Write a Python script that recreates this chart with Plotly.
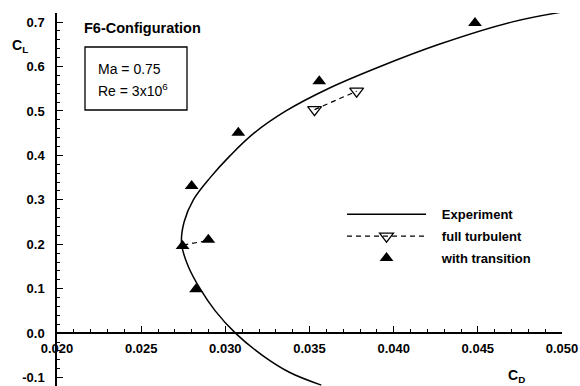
import plotly.graph_objects as go

# ---- data ----
exp_cl = [-0.117, -0.088, -0.05, 0.0, 0.05, 0.10, 0.15, 0.20, 0.25, 0.30,
          0.35, 0.40, 0.45, 0.50, 0.55, 0.60, 0.65, 0.70, 0.722]
exp_cd = [0.0357, 0.0338, 0.0322, 0.0306, 0.0294, 0.0285, 0.0278, 0.02740, 0.02755, 0.0281,
          0.0291, 0.0303, 0.0317, 0.0336, 0.0361, 0.0392, 0.0427, 0.0470, 0.0499]

ft_cd = [0.0353, 0.0378]
ft_cl = [0.503, 0.5445]
ft_low_cd = [0.0275, 0.0290]
ft_low_cl = [0.198, 0.209]

tr_cd = [0.02826, 0.02746, 0.02899, 0.0280, 0.03077, 0.03558, 0.04483]
tr_cl = [0.099, 0.196, 0.210, 0.331, 0.451, 0.567, 0.698]

x_ticks = [0.020, 0.025, 0.030, 0.035, 0.040, 0.045, 0.050]
x_tick_text = ["0.020", "0.025", "0.030", "0.035", "0.040", "0.045", "0.050"]
y_ticks = [-0.1, 0.0, 0.1, 0.2, 0.3, 0.4, 0.5, 0.6, 0.7]
y_tick_text = ["-0.1", "0.0", "0.1", "0.2", "0.3", "0.4", "0.5", "0.6", "0.7"]

FONT = "Liberation Sans, Arial, sans-serif"
NB = "\u00a0\u00a0\u00a0"

fig = go.Figure()
fig.add_trace(go.Scatter(x=exp_cd, y=exp_cl, mode="lines", name=NB + "Experiment",
                         legendgroup="a",
                         line=dict(color="black", width=1.5, shape="spline", smoothing=1.0)))
fig.add_trace(go.Scatter(x=ft_cd, y=ft_cl, mode="lines+markers", name=NB + "full turbulent",
                         legendgroup="b",
                         line=dict(color="black", width=1.2, dash="5px,4px"),
                         marker=dict(symbol="triangle-down-open", size=12, color="black",
                                     line=dict(width=1.3, color="black"))))
fig.add_trace(go.Scatter(x=ft_low_cd, y=ft_low_cl, mode="lines", showlegend=False,
                         legendgroup="b",
                         line=dict(color="black", width=1.2, dash="5px,4px")))
fig.add_trace(go.Scatter(x=tr_cd, y=tr_cl, mode="markers", name=NB + "with transition",
                         legendgroup="c",
                         marker=dict(symbol="triangle-up", size=12, color="black")))

fig.update_layout(
    width=580, height=386,
    margin=dict(l=57, r=18, t=13, b=0),
    paper_bgcolor="white", plot_bgcolor="white",
    font=dict(family=FONT, size=13, color="black"),
    showlegend=True,
    legend=dict(x=0.5644, y=0.5007, xanchor="left", yanchor="top",
                bgcolor="rgba(0,0,0,0)", borderwidth=0, itemwidth=79,
                tracegroupgap=2,
                font=dict(family=FONT, size=13, color="black", weight="bold")),
    xaxis=dict(range=[0.02, 0.05], anchor="free", position=0.1421,
               showline=True, linecolor="black", linewidth=1.5,
               ticks="inside", ticklen=6, tickwidth=1, tickcolor="black",
               tickvals=x_ticks, ticktext=x_tick_text, ticklabelstandoff=4,
               tickfont=dict(family=FONT, size=13, color="black", weight="bold"),
               minor=dict(ticks="inside", dtick=0.001, ticklen=3, tickcolor="black"),
               showgrid=False, zeroline=False),
    yaxis=dict(range=[-0.119, 0.7205], anchor="x",
               showline=True, linecolor="black", linewidth=1.5,
               ticks="inside", ticklen=6, tickwidth=1, tickcolor="black",
               tickvals=y_ticks, ticktext=y_tick_text, ticklabelstandoff=8,
               tickfont=dict(family=FONT, size=13, color="black", weight="bold"),
               minor=dict(ticks="inside", dtick=0.02, ticklen=3, tickcolor="black"),
               showgrid=False, zeroline=False),
)

PLOT_L, PLOT_W, PLOT_H, H = 57, 505.0, 373.0, 386

def ax(px):
    return (px - PLOT_L) / PLOT_W

def ay(py):
    return (H - py) / PLOT_H

ann = [
    dict(text="<b>C<sub>L</sub></b>", x=ax(10), y=ay(46), font=dict(size=14)),
    dict(text="<b>C<sub>D</sub></b>", x=ax(506), y=ay(376), font=dict(size=14)),
    dict(text="<b>F6-Configuration</b>", x=ax(82), y=ay(28), font=dict(size=14.5)),
    dict(text="Ma = 0.75", x=ax(96), y=ay(69), font=dict(size=14)),
    dict(text="Re = 3x10<sup>6</sup>", x=ax(96), y=ay(90), font=dict(size=14)),
]
for a in ann:
    fig.add_annotation(xref="paper", yref="paper", showarrow=False,
                       xanchor="left", yanchor="middle", **a)

# text box
fig.add_shape(type="rect", xref="paper", yref="paper",
              x0=ax(85), x1=ax(187), y0=ay(110), y1=ay(47),
              line=dict(color="black", width=1.3))

fig.write_html("out.html")
